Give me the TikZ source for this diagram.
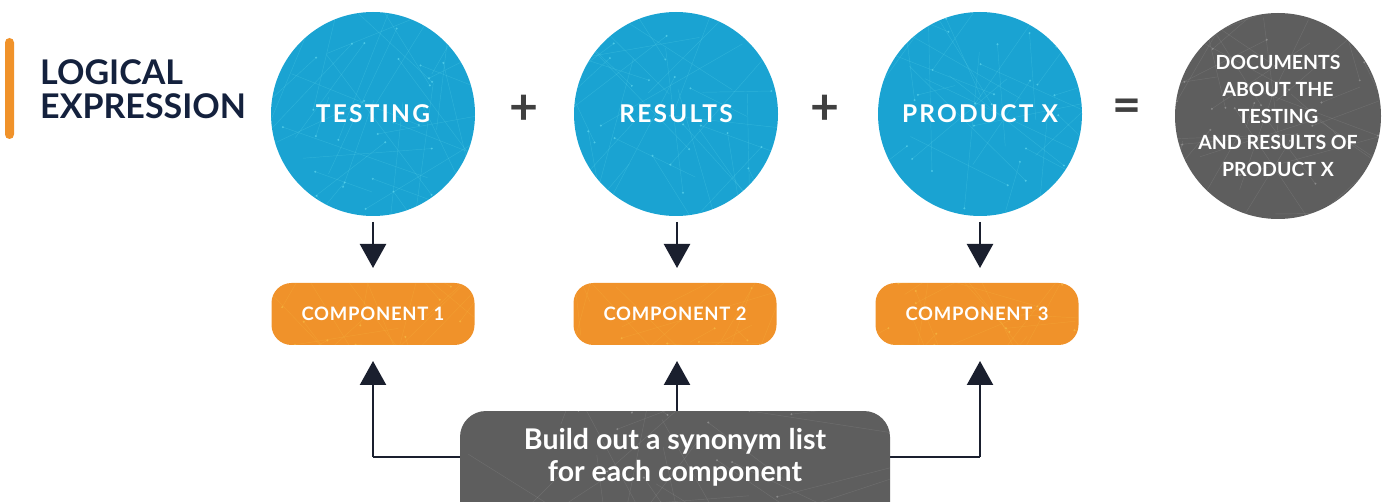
\documentclass[tikz,border=0pt]{standalone}
\usepackage{fontspec}
\setmainfont{Lato}
\usetikzlibrary{arrows.meta}
\definecolor{cblue}{HTML}{1AA3D2}
\definecolor{corange}{HTML}{F0922A}
\definecolor{cgray}{HTML}{5E5E5E}
\definecolor{cnavy}{HTML}{14213D}
\definecolor{carrow}{HTML}{1A1F2E}
\definecolor{cop}{HTML}{404040}
\definecolor{tblue}{HTML}{6FE3F5}
\definecolor{torange}{HTML}{F8C64A}
\definecolor{tgray}{HTML}{A8A8A8}
\tikzset{
  texture/.style={path picture={
    \foreach \i in {1,...,45}{
      \draw[#1,opacity=.22,line width=.45pt] (path picture bounding box.center) ++(rand*120,rand*120) coordinate (tA) -- ++(rand*160,rand*160) coordinate (tB);
      \fill[#1,opacity=.55] (tA) circle (1.1pt);
    }}},
  bluecircle/.style={circle,fill=cblue,minimum size=204pt,inner sep=0pt,text=white,texture=tblue,
    font=\bfseries\fontsize{24.5}{28}\selectfont\addfontfeature{LetterSpace=9}},
  graycircle/.style={circle,fill=cgray,minimum size=206pt,inner sep=0pt,text=white,align=center,texture=tgray,
    font=\bfseries\fontsize{19.5}{26.8}\selectfont},
  compbox/.style={rounded corners=20pt,fill=corange,minimum width=203pt,minimum height=62pt,texture=torange,
    inner sep=0pt,text=white,font=\bfseries\fontsize{18.5}{20}\selectfont\addfontfeature{LetterSpace=4}},
  synbox/.style={rounded corners=26pt,fill=cgray,minimum width=430pt,minimum height=118pt,texture=tgray,
    inner sep=0pt},
  opsym/.style={text=cop,font=\bfseries\fontsize{50}{50}\selectfont,inner sep=0pt},
  conn/.style={line width=2.4pt,draw=carrow,-{Triangle[width=26pt,length=24pt]}},
  plain/.style={line width=2.4pt,draw=carrow},
  title/.style={text=cnavy,align=left,anchor=north west,inner sep=0pt,
    font=\bfseries\fontsize{34}{34.5}\selectfont}
}
\begin{document}
\begin{tikzpicture}[x=1pt,y=-1pt]
\pgfmathsetseed{7}
\useasboundingbox (0,0) rectangle (1384,502);
% title
\fill[corange,rounded corners=4.5pt] (5,38) rectangle (14,139);
\node[title] (ttl) at (40,59) {LOGICAL\\EXPRESSION};
% circles
\node[bluecircle] (c1) at (373,114) {\raisebox{-2pt}{TESTING}};
\node[bluecircle] (c2) at (676,114) {\raisebox{-2pt}{RESULTS}};
\node[bluecircle] (c3) at (980,114) {\raisebox{-2pt}{PRODUCT X}};
\node[graycircle] (c4) at (1278,116) {DOCUMENTS\\ABOUT THE\\TESTING\\AND RESULTS OF\\PRODUCT X};
% operators
\node[opsym] (p1) at (524,110) {+};
\node[opsym] (p2) at (825,110) {+};
\node[opsym] (eq) at (1127,111) {=};
% component boxes
\node[compbox] (k1) at (373,314) {COMPONENT 1};
\node[compbox] (k2) at (675,314) {COMPONENT 2};
\node[compbox] (k3) at (977,314) {COMPONENT 3};
% down arrows
\coordinate (d1s) at (373,222); \coordinate (d1e) at (373,268);
\coordinate (d2s) at (677,222); \coordinate (d2e) at (677,268);
\coordinate (d3s) at (980,222); \coordinate (d3e) at (980,268);
\draw[conn] (d1s) -- (d1e);
\draw[conn] (d2s) -- (d2e);
\draw[conn] (d3s) -- (d3e);
% synonym box and up arrows
\coordinate (u1) at (373,361);
\coordinate (u2) at (677,361);
\coordinate (u3) at (980,361);
\coordinate (h1) at (373,457);
\coordinate (h3) at (980,457);
\coordinate (m2) at (677,430);
\draw[conn] (h1) -- (u1);
\draw[conn] (h3) -- (u3);
\draw[conn] (m2) -- (u2);
\draw[plain] (h1) -- (h3);
\node[synbox] (syn) at (675,470) {};
\node[text=white,align=center,font=\bfseries\fontsize{28.5}{32}\selectfont] (synt) at (675,457) {Build out a synonym list\\for each component};
\end{tikzpicture}
\end{document}
